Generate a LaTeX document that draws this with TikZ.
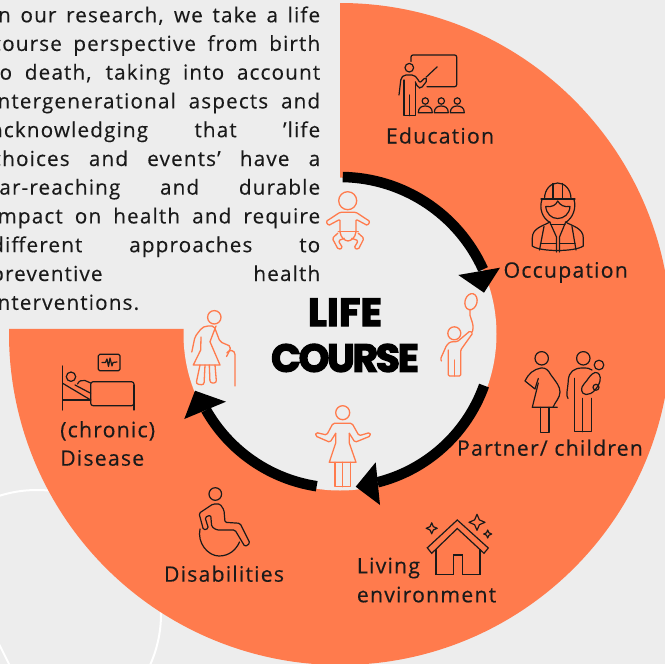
\documentclass[tikz,border=0pt]{standalone}
\usepackage{fontspec}
\setmainfont{Open Sans}[LetterSpace=5.5,FakeBold=0.25]
\newfontfamily\titlefont{Poppins}[UprightFeatures={FakeBold=3.5},BoldFeatures={FakeBold=3.5}]
\definecolor{bgc}{HTML}{EDEDED}
\definecolor{orangec}{HTML}{FF7B4D}
\definecolor{inkc}{HTML}{1A1A1A}
\newcommand{\sparkle}[3]{\draw[blackicon] (#1,#2-#3) -- (#1+.3*#3,#2-.3*#3) -- (#1+#3,#2) -- (#1+.3*#3,#2+.3*#3) -- (#1,#2+#3) -- (#1-.3*#3,#2+.3*#3) -- (#1-#3,#2) -- (#1-.3*#3,#2-.3*#3) -- cycle;}
\newcommand{\student}[1]{\draw[blackicon] (#1,101) circle[radius=3.2];
  \draw[blackicon] (#1-7,112.7) .. controls (#1-7,107.5) and (#1-3.5,106) .. (#1,106) .. controls (#1+3.5,106) and (#1+7,107.5) .. (#1+7,112.7) -- cycle;}
\newcommand{\bodyline}[3][s]{\node[bodytext] (#2) at (-9,#3) {\makebox[329pt][#1]{\csname txt#2\endcsname}};}
\newcommand{\txtlA}{In our research, we take a life}
\newcommand{\txtlB}{course perspective from birth}
\newcommand{\txtlC}{to death, taking into account}
\newcommand{\txtlD}{intergenerational aspects and}
\newcommand{\txtlE}{acknowledging that ’life}
\newcommand{\txtlF}{choices and events’ have a}
\newcommand{\txtlG}{far-reaching and durable}
\newcommand{\txtlH}{impact on health and require}
\newcommand{\txtlI}{different approaches to}
\newcommand{\txtlJ}{preventive health}
\newcommand{\txtlK}{interventions.}
\tikzset{
  blackicon/.style={draw=inkc,line width=1.2pt,line join=round,line cap=round},
  orangeicon/.style={draw=orangec,line width=1.3pt,line join=round,line cap=round},
  bodytext/.style={anchor=base west,inner sep=0pt,text=inkc,font=\fontsize{20.7}{23}\selectfont},
  label/.style={anchor=base,inner sep=0pt,text=inkc,font=\fontsize{21.3}{24}\selectfont},
  labelleft/.style={anchor=base west,inner sep=0pt,text=inkc,font=\fontsize{21.3}{24}\selectfont},
  titletext/.style={anchor=base,inner sep=0pt,text=black,font=\titlefont\bfseries\fontsize{39}{42}\selectfont},
  arrowarc/.style={draw=black,line width=10.5pt},
}
\begin{document}
\begin{tikzpicture}[x=1pt,y=1pt]
\useasboundingbox (0,0) rectangle (665,-664);
\clip (0,0) rectangle (665,-664);
\fill[bgc] (0,0) rectangle (665,-664);
% white rings behind the band
\draw[white,line width=2pt] (37,-614) circle[radius=124];
\draw[white,line width=2pt] (-2,-642) -- (10,-666);
% band
\begin{scope}[shift={(340,-334)}]
  \fill[orangec] (90:331) arc[start angle=90,end angle=-180.87,radius=331] -- (0,5) -- cycle;
  \fill[bgc] (0,0) circle[radius=156.5];
  \draw[arrowarc] (89:157) arc[start angle=89,end angle=24.3,radius=157];
  \draw[arrowarc] (-19.7:153) arc[start angle=-19.7,end angle=-75.8,radius=153];
  \draw[arrowarc] (261.3:154) arc[start angle=261.3,end angle=209.5,radius=154];
\end{scope}
\begin{scope}[y=-1pt]
\fill[black] (458.3,275) -- (500,267.7) -- (484,292.7) -- cycle;
\fill[black] (375.7,462.3) -- (380,505) -- (355.7,486.7) -- cycle;
\fill[black] (226,401.7) -- (184.3,419) -- (195,390.7) -- cycle;

% text block
\bodyline{lA}{22.3}
\bodyline{lB}{50.9}
\bodyline{lC}{79.6}
\bodyline{lD}{108.4}
\bodyline{lE}{137.2}
\bodyline{lF}{166}
\bodyline{lG}{194.6}
\bodyline{lH}{223.4}
\bodyline{lI}{252.2}
\bodyline{lJ}{281}
\bodyline[l]{lK}{309.8}

% title and labels
\node[titletext] (life) at (345,326) {\addfontfeature{LetterSpace=1}LIFE};
\node[titletext] (course) at (345,371.7) {\addfontfeature{LetterSpace=-5.5}COURSE};
\node[label] (education) at (440,143.5) {Education};
\node[label] (occupation) at (565.7,277.7) {Occupation};
\node[label] (partner) at (550,455.7) {Partner/ children};
\node[labelleft] (living) at (356.7,573.3) {Living};
\node[labelleft] (environment) at (356.7,602.3) {environment};
\node[labelleft] (chronic) at (60,437.3) {(chronic)};
\node[labelleft] (disease) at (60,465.7) {Disease};
\node[label] (disabilities) at (224,581.7) {Disabilities};

% teacher
\draw[blackicon,rounded corners=2pt] (411,61.5) -- (411,55) -- (456.7,55) -- (456.7,86.7) -- (427,86.7);
\draw[blackicon] (409.3,67.7) circle[radius=4.3];
\draw[blackicon,rounded corners=2pt] (399,95) -- (401,78) -- (404,75) -- (414,75) -- (417,78) -- (420,83) -- (425,77.5) -- (427.5,80) -- (421,88.5) -- (418,87.5) -- (415.3,82);
\draw[blackicon] (426,77.3) -- (437.3,66.7);
\draw[blackicon] (404,80) -- (404,115.7) -- (415.3,115.7) -- (415.3,82);
\draw[blackicon] (409.5,95) -- (409.5,115.7);
\student{425.3}\student{441.3}\student{457.3}

% worker
\draw[blackicon] (541,199) -- (575,199);
\draw[blackicon] (544.5,199) .. controls (544.5,189) and (551,183) .. (557.7,183) .. controls (564.4,183) and (571,189) .. (571,199);
\draw[blackicon] (553,198.5) -- (553,183.5) (562.5,198.5) -- (562.5,183.5);
\draw[blackicon] (542,199.5) .. controls (539,208) and (542,218) .. (550,222.5);
\draw[blackicon] (574,199.5) .. controls (576.5,208) and (573,218) .. (565.5,222.5);
\draw[blackicon] (545.7,206.5) .. controls (552,207.5) and (556,205) .. (557.7,201) .. controls (560,205) and (564,207.5) .. (570,206.5) .. controls (569.5,214) and (564,218.5) .. (557.7,218.5) .. controls (551.5,218.5) and (546.5,214) .. (545.7,206.5);
\draw[blackicon] (550,222) .. controls (543,226) and (532.3,228) .. (532.3,238) -- (532.3,246) .. controls (540,252) and (575,252) .. (583.3,246) -- (583.3,238) .. controls (583.3,228) and (572,226) .. (565.5,222);
\draw[blackicon] (550.5,224.5) -- (565,224.5);
\draw[blackicon] (544,226.5) -- (539.5,250);
\draw[blackicon] (572,226.5) -- (576,250);
\draw[blackicon] (550,222.5) -- (556.5,237) -- (556.5,252);
\draw[blackicon] (565.5,222.5) -- (559.5,237) -- (559.5,252);
\draw[blackicon] (540.5,243.3) -- (556.5,243.3) (559.5,243.3) -- (575,243.3);

% pregnant woman and man with child
\draw[blackicon] (541.7,358.3) circle[radius=6.7];
\draw[blackicon] (538.3,378.5) .. controls (537,382) and (536,386) .. (535,389) -- (525,381) .. controls (528,374) and (534,369) .. (541,368) .. controls (546,367.5) and (548,370) .. (551,375) .. controls (556,382) and (560,386) .. (560,392) .. controls (560,398) and (555,402) .. (553,407.3);
\draw[blackicon] (538.3,383) -- (532.3,407.3) -- (557.3,407.3);
\draw[blackicon] (540.7,407.3) -- (540.7,432.3) -- (549,432.3) -- (549,407.3);
\draw[blackicon] (583.3,358.3) circle[radius=6.7];
\draw[blackicon] (568,398.5) .. controls (565.5,396) and (568,388) .. (568.3,380) .. controls (569,372) and (574,368) .. (582,368) .. controls (587,368) and (590,368) .. (592,370);
\draw[blackicon] (574.3,378.3) -- (574.3,431.7) -- (591.7,431.7) -- (591.7,398.3);
\draw[blackicon] (582.7,398.3) -- (582.7,431.7);
\draw[blackicon] (599,365) circle[radius=4.8];
\draw[blackicon] (595,372.5) .. controls (590,374) and (588,380) .. (584,384) .. controls (580,388) and (581,394) .. (586,394.5) .. controls (592,395) and (598,388) .. (600,381) .. controls (601,376) and (599,372) .. (595,372.5);
\draw[blackicon] (596,387.3) circle[radius=3];

% house
\draw[blackicon,line join=miter] (427.3,547.8) -- (457.3,520) -- (488.3,548) -- (484,553.3) -- (457.3,528.5) -- (431.7,553.3) -- cycle;
\draw[blackicon,line join=miter] (436,549.5) -- (436,574.3) -- (453.3,574.3) -- (453.3,555) -- (462.3,555) -- (462.3,574.3) -- (480,574.3) -- (480,549.5);
\sparkle{431.7}{528.3}{5.5}
\sparkle{477}{522.3}{8}
\sparkle{487.7}{534}{4}

% hospital bed
\draw[blackicon] (62.7,366) -- (62.7,410);
\draw[blackicon] (134,385) -- (134,410);
\draw[blackicon] (62.7,400) -- (90.7,400);
\draw[blackicon,rounded corners=2.5pt] (90.7,381.7) -- (134,381.7) -- (134,405.7) -- (90.7,405.7) -- cycle;
\draw[blackicon] (62.7,383.3) -- (90.7,400);
\draw[blackicon] (71,376.7) circle[radius=4.7];
\draw[blackicon] (75,385) -- (90.7,393.3);
\draw[blackicon] (77.5,384) .. controls (79,380.5) and (82,380) .. (85,380.5) -- (90.7,383);
\draw[blackicon,rounded corners=1.5pt] (98.3,354.3) rectangle (120,370.7);
\draw[blackicon] (102,362.5) -- (105.5,362.5) -- (107,359) -- (108.5,366.5) -- (110,358) -- (112,366) -- (113,362.5) -- (117,362);

% wheelchair
\draw[blackicon] (215.3,494) circle[radius=6.3];
\draw[blackicon,rounded corners=1.5pt] (199,513.3) -- (213,504) -- (220,504) -- (224,510) -- (225,522.3) -- (240,523.3) -- (250,543.3) -- (245,546.7) -- (235,530) -- (216.7,530) -- (211.7,526.7) -- (210.7,515) -- (205,517.3) -- (208.5,528.5) -- (203.5,530) -- cycle;
\draw[blackicon] (200,529) .. controls (197,543) and (208,556) .. (219,556) .. controls (229,556) and (236,550) .. (239.5,542);

% baby
\draw[orangeicon] (347.7,200.7) circle[radius=9];
\draw[orangeicon,rounded corners=1.2pt] (340,231.5) -- (340,219.3) -- (328.5,225.5) -- (326,221.5) -- (340,212.3) -- (356,212.3) -- (370,221.5) -- (367.5,225.5) -- (356,219.3) -- (356,231.5);
\draw[orangeicon] (338.3,231.7) -- (358.3,231.7);
\draw[orangeicon] (340,232) .. controls (341,238) and (344.5,240.5) .. (348,241) .. controls (351.5,240.5) and (355,238) .. (356,232);
\draw[orangeicon,rounded corners=1.5pt] (338,233) -- (332.3,238.3) -- (338.3,249.5) -- (342.7,248) -- (338.3,240.7) -- (344.3,238.3);
\draw[orangeicon,rounded corners=1.5pt] (358,233) -- (364,238.3) -- (358.3,249.5) -- (354,248) -- (358.3,240.7) -- (351.7,238.3);

% child with balloon
\draw[orangeicon,rotate around={-15:(471,301.7)}] (471,301.7) ellipse[x radius=6,y radius=8.2];
\draw[orangeicon] (470,310) .. controls (468,317) and (475,322) .. (472.5,331.5);
\draw[orangeicon] (454.3,333.3) circle[radius=6.5];
\draw[orangeicon,rounded corners=1.2pt] (441.5,361) -- (440.5,359) -- (446.5,345.5) -- (450,342) -- (457.5,341.5) -- (470,331) -- (472.8,333) -- (460.7,350) -- (460.7,376) -- (448.3,376) -- (448.3,350);
\draw[orangeicon] (454.3,360) -- (454.3,376);

% woman with open hands
\draw[orangeicon] (342.7,412.7) circle[radius=7];
\draw[orangeicon,rounded corners=1.5pt] (335.7,433.3) -- (330,442.3) -- (315.5,436) -- (316,432.5) -- (326.7,435) -- (333,423.3) -- (352,423.3) -- (359,435.7) -- (370,432.5) -- (370.5,436) -- (355,442.3) -- (349.3,433.3);
\draw[orangeicon] (335.7,433.3) -- (335.7,443) -- (329.3,462.3) -- (356,462.3) -- (349.3,443) -- (349.3,433.3);
\draw[orangeicon] (335,462.3) -- (335,486.7) -- (350.7,486.7) -- (350.7,462.3);
\draw[orangeicon] (342.7,462.3) -- (342.7,486.7);

% elderly woman
\draw[orangeicon] (214.3,317.3) circle[radius=6.7];
\draw[orangeicon,rounded corners=2pt] (191.8,352) -- (195,336.7) -- (201.7,328) -- (206,326) -- (214,326) -- (220,341.7) -- (231,346.5) -- (229,352) -- (226.5,356.5);
\draw[orangeicon] (216,326) -- (210,341.7) -- (220,365) -- (193.3,365) -- (200.7,350) -- (201,337);
\draw[orangeicon] (235,386) -- (235,354.5) .. controls (235,350) and (229,349) .. (226.8,353);
\draw[orangeicon,rounded corners=2.5pt] (200,365) -- (196,384) -- (204,385) -- (205,365);
\draw[orangeicon,rounded corners=2.5pt] (209.3,365) -- (210,383) -- (216.5,383) -- (215,365);
\end{scope}
\end{tikzpicture}
\end{document}
